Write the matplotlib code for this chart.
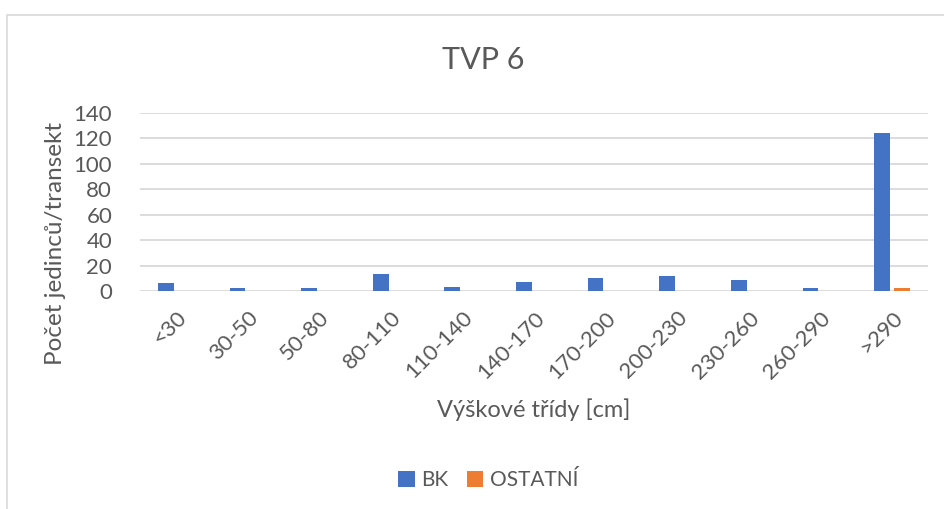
import numpy as np
import matplotlib
matplotlib.use("Agg")
import matplotlib.pyplot as plt
from matplotlib.patches import Rectangle

# Height classes and counts per transect
classes = ["<30", "30-50", "50-80", "80-110", "110-140", "140-170",
           "170-200", "200-230", "230-260", "260-290", ">290"]
bk = [6, 2, 2, 13, 3, 7, 10, 12, 9, 2, 124]
ostatni = [0, 0, 0, 0, 0, 0, 0, 0, 0, 0, 2]

plt.rcParams["font.family"] = ["Lato", "DejaVu Sans"]
text_color = "#595959"
grid_color = "#d9d9d9"

fig = plt.figure(figsize=(9.44, 5.09), dpi=100)
ax = fig.add_axes([140 / 944, 1 - 291 / 509, 788 / 944, 178 / 509])

# chart frame
fig.patches.append(Rectangle((7 / 944, -0.05), 1.0, 1 - 15 / 509 + 0.05,
                             transform=fig.transFigure, fill=False,
                             edgecolor=grid_color, linewidth=1.2))

x = np.arange(len(classes))
w = 0.22
ax.bar(x - 0.14, bk, w, color="#4472C4", label="BK", zorder=3)
ax.bar(x + 0.14, ostatni, w, color="#ED7D31", label="OSTATNÍ", zorder=3)

ax.set_xlim(-0.5, len(classes) - 0.5)
ax.set_ylim(0, 140)
ax.set_yticks(range(0, 141, 20))
ax.yaxis.grid(True, color=grid_color, linewidth=1.3, zorder=0)
for s in ax.spines.values():
    s.set_visible(False)
ax.tick_params(length=0, colors=text_color, labelsize=16)
ax.tick_params(axis="y", pad=20)
ax.set_xticks(x)
ax.set_xticklabels(classes, rotation=45, ha="right", rotation_mode="anchor")
ax.tick_params(axis="x", pad=12)

fig.text(55 / 944, 1 - 244 / 509, "Počet jedinců/transekt", rotation=90,
         ha="center", va="center", fontsize=17.5, color=text_color)
fig.text(534 / 944, 1 - 410 / 509, "Výškové třídy [cm]", ha="center", va="center",
         fontsize=17, color=text_color)
fig.text(483 / 944, 1 - 60 / 509, "TVP 6", ha="center", va="center",
         fontsize=22, color=text_color)

fig.legend(loc="center", bbox_to_anchor=(488 / 944, 1 - 480 / 509), ncol=2,
           frameon=False, fontsize=15, labelcolor=text_color,
           handlelength=0.8, handleheight=0.8, handletextpad=0.3, columnspacing=0.9)

fig.savefig("out.png", dpi=100, facecolor="white")
